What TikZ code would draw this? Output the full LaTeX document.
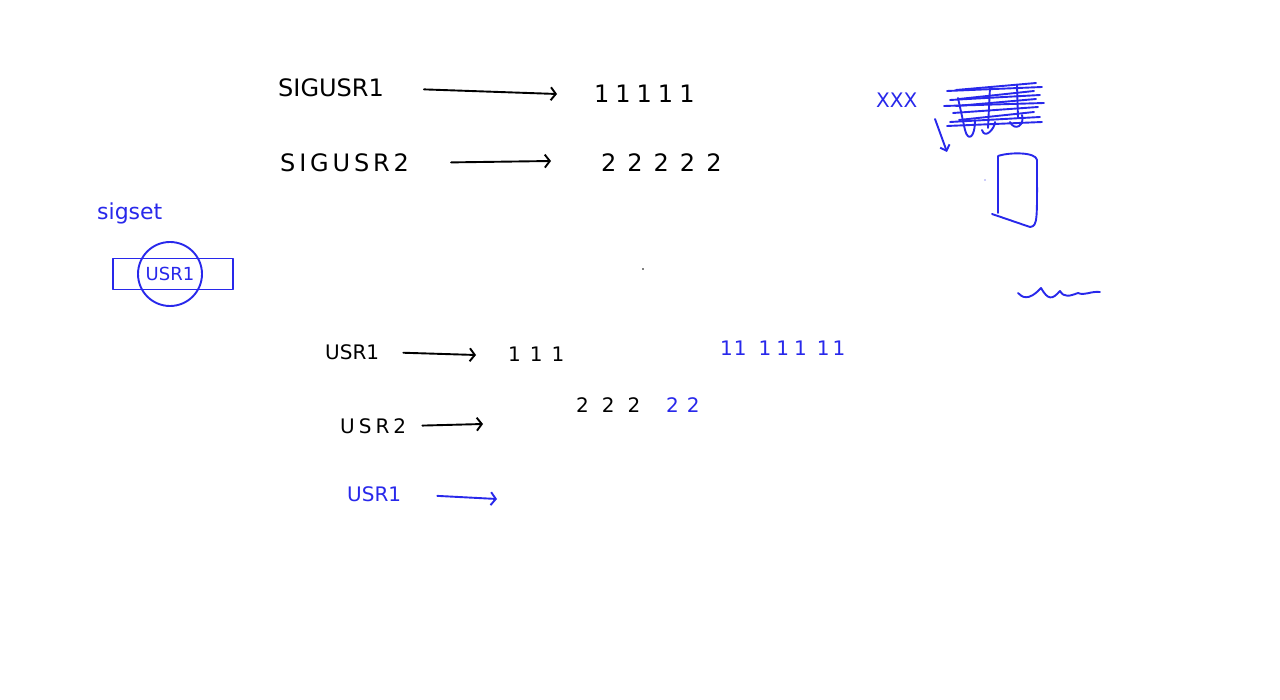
\documentclass[tikz,border=0pt]{standalone}
\usepackage{fontspec}
\setmainfont{DejaVu Sans}
\usetikzlibrary{arrows.meta}

\definecolor{penblue}{RGB}{40,40,235}
\tikzset{
    ink/.style={font=\fontsize{24}{24}\selectfont, inner sep=0pt, anchor=west},
    small ink/.style={font=\fontsize{20}{20}\selectfont, inner sep=0pt, anchor=west},
    hand/.style={line width=1.9pt, line cap=round, line join=round},
    hand arrow/.style={hand, -{Straight Barb[length=5pt,width=13pt]}},
}

\begin{document}
\begin{tikzpicture}[x=1pt,y=-1pt]
    \useasboundingbox[fill=white] (0,0) rectangle (1280,700);

    % top rows: signal -> pending marks
    \node[ink] (sigA) at (278,88) {SIGUSR1};
    \node[ink] (onesA) at (594,94) {1\hspace{6pt}1\hspace{6pt}1\hspace{6pt}1\hspace{6pt}1};
    \node[ink] (sigB) at (280,163) {\addfontfeature{LetterSpace=16}SIGUSR2};
    \node[ink] (twosA) at (601,163) {2\hspace{11pt}2\hspace{11pt}2\hspace{11pt}2\hspace{11pt}2};
    \coordinate (tipA) at (557,94);
    \coordinate (tipB) at (551,161);
    \draw[hand arrow, shorten <=40pt] (sigA.east) -- (tipA);
    \draw[hand arrow, shorten <=42pt] (sigB.east) -- (tipB);

    % sigset box with circled entry
    \node[small ink, penblue, font=\fontsize{22}{22}\selectfont] (sigset) at (97,213) {sigset};
    \node[penblue, draw, hand, minimum width=120pt, minimum height=31pt] (setbox) at (173,274) {};
    \node[penblue, draw, hand, circle, minimum size=64pt, inner sep=0pt,
        font=\fontsize{18}{18}\selectfont] (usrdot) at (170,274) {USR1};

    % second half: repeated signals
    \node[small ink] (usrA) at (325,352) {USR1};
    \node[small ink] (onesB) at (508,354) {1\hspace{9pt}1\hspace{9pt}1};
    \node[small ink, penblue] (onesC) at (720,348) {1\hspace{1pt}1\hspace{12pt}1\hspace{5pt}1\hspace{5pt}1\hspace{10pt}1\hspace{3pt}1};
    \node[small ink] (usrB) at (340,426) {\addfontfeature{LetterSpace=20}USR2};
    \node[small ink] (twosB) at (576,405) {2\hspace{13pt}2\hspace{13pt}2};
    \node[small ink, penblue] (twosC) at (666,405) {2\hspace{8pt}2};
    \node[small ink, penblue] (usrC) at (347,494) {USR1};
    \coordinate (tipC) at (476,355);
    \coordinate (tipD) at (483,424);
    \coordinate (tipE) at (497,499);
    \draw[hand arrow, shorten <=24pt] (usrA.east) -- (tipC);
    \draw[hand arrow, shorten <=16pt] (usrB.east) -- (tipD);
    \draw[hand arrow, penblue, shorten <=36pt] (usrC.east) -- (tipE);
    \fill (643,269) circle (0.8pt);

    % right corner sketches
    \node[small ink, penblue] (xmarks) at (876,100) {XXX};
    \begin{scope}[hand, penblue]
        \foreach \y/\d in {88/2,92/-1,96/3,100/0,104/2,108/-2,112/1,117/3,122/0,127/-1}
            \draw (950+\d*3,\y+\d) -- (1040-\d*2,\y-5);
        \draw (990,87) -- (988,128);
        \draw (1017,85) -- (1018,118);
        \draw (982,130) .. controls (985,140) and (995,128) .. (995,122);
        \draw (1010,122) .. controls (1015,132) and (1025,125) .. (1022,115);
        \draw[-{Straight Barb[length=5pt,width=10pt]}] (935,119) -- (947,152);
        \draw (958,98) -- (965,130) .. controls (968,142) and (975,138) .. (975,120);
        \draw (998,156) -- (998,213) (992,214) -- (1030,227)
            .. controls (1038,226) and (1037,220) .. (1037,160)
            .. controls (1036,152) and (1010,152) .. (998,156);
        \fill (985,180) circle (0.6pt);
        \draw (1018,293) .. controls (1022,297) and (1028,302) .. (1041,288)
            .. controls (1048,300) and (1052,300) .. (1060,291)
            .. controls (1064,298) and (1070,296) .. (1078,293)
            .. controls (1085,296) and (1090,291) .. (1100,292);
    \end{scope}
\end{tikzpicture}
\end{document}
